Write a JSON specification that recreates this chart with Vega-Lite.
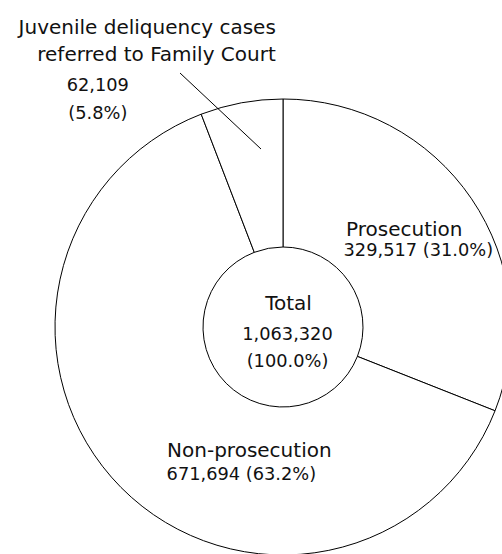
{
  "$schema": "https://vega.github.io/schema/vega-lite/v6.json",
  "width": 438,
  "height": 454,
  "autosize": "none",
  "padding": {"left": 64, "top": 100, "right": 0, "bottom": 0},
  "background": "white",
  "config": {"view": {"stroke": null}, "font": "DejaVu Sans", "text": {"color": "#111111"}},
  "layer": [
    {
      "data": {
        "values": [
          {"category": "Prosecution", "value": 329517, "rank": 1, "title": "Prosecution", "figure": "329,517 (31.0%)"},
          {"category": "Non-prosecution", "value": 671694, "rank": 2, "title": "Non-prosecution", "figure": "671,694 (63.2%)"},
          {"category": "Juvenile deliquency cases referred to Family Court", "value": 62109, "rank": 3, "title": ["Juvenile deliquency cases", "referred to Family Court"], "figure": ["62,109", "(5.8%)"]}
        ]
      },
      "encoding": {
        "theta": {"field": "value", "type": "quantitative", "stack": true},
        "order": {"field": "rank", "type": "quantitative"},
        "detail": {"field": "category", "type": "nominal"}
      },
      "layer": [
        {
          "mark": {"type": "arc", "innerRadius": 80, "outerRadius": 228, "fill": "white", "stroke": "black", "strokeWidth": 1}
        },
        {
          "mark": {"type": "text", "radius": 160, "fontSize": 20, "align": "center", "baseline": "alphabetic", "dx": -11, "dy": -1},
          "encoding": {"text": {"condition": {"test": "datum.rank === 1", "field": "title", "type": "nominal"}, "value": ""}}
        },
        {
          "mark": {"type": "text", "radius": 160, "fontSize": 17.8, "align": "center", "baseline": "alphabetic", "dx": 3, "dy": 19},
          "encoding": {"text": {"condition": {"test": "datum.rank === 1", "field": "figure", "type": "nominal"}, "value": ""}}
        },
        {
          "mark": {"type": "text", "radius": 160, "fontSize": 20, "align": "center", "baseline": "alphabetic", "dx": 80, "dy": 17},
          "encoding": {"text": {"condition": {"test": "datum.rank === 2", "field": "title", "type": "nominal"}, "value": ""}}
        },
        {
          "mark": {"type": "text", "radius": 160, "fontSize": 17.8, "align": "center", "baseline": "alphabetic", "dx": 72, "dy": 40},
          "encoding": {"text": {"condition": {"test": "datum.rank === 2", "field": "figure", "type": "nominal"}, "value": ""}}
        },
        {
          "mark": {"type": "text", "radius": 160, "fontSize": 20, "align": "right", "baseline": "alphabetic", "lineHeight": 27.5, "dx": 22, "dy": -136},
          "encoding": {"text": {"condition": {"test": "datum.rank === 3", "field": "title", "type": "nominal"}, "value": ""}}
        },
        {
          "mark": {"type": "text", "radius": 160, "fontSize": 17.8, "align": "center", "baseline": "alphabetic", "lineHeight": 28, "dx": -156, "dy": -79},
          "encoding": {"text": {"condition": {"test": "datum.rank === 3", "field": "figure", "type": "nominal"}, "value": ""}}
        }
      ]
    },
    {
      "data": {"values": [{"title": "Total", "figure": ["1,063,320", "(100.0%)"]}]},
      "layer": [
        {
          "mark": {"type": "text", "fontSize": 20, "align": "center", "baseline": "alphabetic", "dx": 5.5, "dy": -17},
          "encoding": {"text": {"field": "title", "type": "nominal"}}
        },
        {
          "mark": {"type": "text", "fontSize": 17.8, "align": "center", "baseline": "alphabetic", "lineHeight": 27, "dx": 4.5, "dy": 13},
          "encoding": {"text": {"field": "figure", "type": "nominal"}}
        }
      ]
    },
    {
      "data": {"values": [{"leader": "Juvenile deliquency cases referred to Family Court"}]},
      "mark": {"type": "rule", "color": "black", "strokeWidth": 1},
      "encoding": {
        "x": {"value": 116},
        "y": {"value": -27},
        "x2": {"value": 197},
        "y2": {"value": 49}
      }
    }
  ]
}
